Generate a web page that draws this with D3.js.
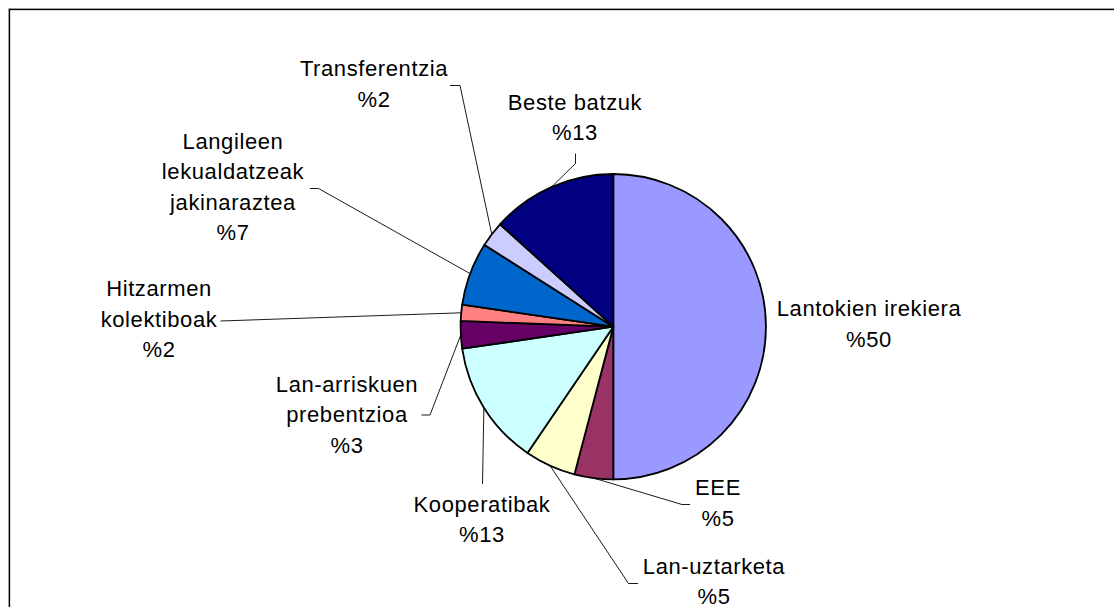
<!DOCTYPE html>
<html>
<head>
<meta charset="utf-8">
<script src="https://cdn.jsdelivr.net/npm/d3@7"></script>
<style>
  body { margin: 0; background: #fff; }
  text { font-family: "Liberation Sans", Arial, sans-serif; font-size: 22px; letter-spacing: 0.6px; fill: #000; }
</style>
</head>
<body>
<div id="chart"></div>
<script>
var w = 1114;
var h = 607;

// slices, clockwise from 12 o'clock
var categories = ["Lantokien irekiera", "EEE", "Lan-uztarketa", "Kooperatibak",
                  "Lan-arriskuen prebentzioa", "Hitzarmen kolektiboak",
                  "Langileen lekualdatzeak jakinaraztea", "Transferentzia", "Beste batzuk"];
var values = [50, 4.1, 5.4, 13.2, 2.9, 1.7, 6.7, 2.7, 13.3];
var pctLabels = ["%50", "%5", "%5", "%13", "%3", "%2", "%7", "%2", "%13"];
var colors = ["#9999FF", "#993366", "#FFFFCC", "#CCFFFF", "#660066",
              "#FF8080", "#0066CC", "#CCCCFF", "#000080"];

// label text lines (how the names wrap)
var labelLines = [
    ["Lantokien irekiera"], ["EEE"], ["Lan-uztarketa"], ["Kooperatibak"],
    ["Lan-arriskuen", "prebentzioa"], ["Hitzarmen", "kolektiboak"],
    ["Langileen", "lekualdatzeak", "jakinaraztea"], ["Transferentzia"], ["Beste batzuk"]
];

// layout: label centre x, first baseline y, leader points after the pie edge
var layout = [
    { x: 869, y: 316, leader: null },
    { x: 718, y: 495, leader: [[682, 504.5], [690, 504.5]] },
    { x: 714, y: 573.5, leader: [[628.5, 583.5], [638, 583.5]] },
    { x: 482, y: 511.5, leader: [[482.5, 484]] },
    { x: 347, y: 391.5, leader: [[430, 415], [421.5, 415]] },
    { x: 159, y: 296, leader: [[220.5, 321]] },
    { x: 233, y: 148.5, leader: [[318.5, 188.5], [310, 188.5]] },
    { x: 374, y: 76, leader: [[460, 85.5], [450, 85.5]] },
    { x: 575, y: 109.5, leader: [[575.5, 163.5], [575.5, 153.5]] }
];
var lineGap = 30.6;

var cx = 613.3, cy = 326.7, r = 152.7;

var svg = d3.select("#chart")
    .append("svg")
    .attr("width", w)
    .attr("height", h);

svg.append("rect")
    .attr("width", w).attr("height", h)
    .attr("fill", "#fff");

// frame (runs off the right and bottom)
svg.append("rect")
    .attr("x", 8.5).attr("y", 8.5)
    .attr("width", w + 20).attr("height", h + 20)
    .attr("fill", "none")
    .attr("stroke", "#bbb")
    .attr("stroke-width", 1);
svg.append("rect")
    .attr("x", 9.5).attr("y", 9.5)
    .attr("width", w + 20).attr("height", h + 20)
    .attr("fill", "none")
    .attr("stroke", "#000")
    .attr("stroke-width", 1.3);

var pie = d3.pie().sort(null).value(function (d) { return d; });
var arcs = pie(values);

var arc = d3.arc().innerRadius(0).outerRadius(r);
var edge = d3.arc().innerRadius(r).outerRadius(r);

var g = svg.append("g").attr("transform", "translate(" + cx + "," + cy + ")");

g.selectAll("path.slice")
    .data(arcs)
    .enter()
    .append("path")
    .attr("class", "slice")
    .attr("d", arc)
    .attr("fill", function (d, i) { return colors[i]; })
    .attr("stroke", "#000")
    .attr("stroke-width", 1.8)
    .attr("stroke-linejoin", "round");

// leader lines
var line = d3.line();
svg.selectAll("path.leader")
    .data(arcs)
    .enter()
    .filter(function (d, i) { return layout[i].leader; })
    .append("path")
    .attr("class", "leader")
    .attr("d", function (d) {
        var i = d.index;
        var c = edge.centroid(d);
        var pts = [[cx + c[0], cy + c[1]]].concat(layout[i].leader);
        return line(pts);
    })
    .attr("fill", "none")
    .attr("stroke", "#000")
    .attr("stroke-width", 0.9);

// labels
var labels = svg.selectAll("text.lbl")
    .data(arcs)
    .enter()
    .append("text")
    .attr("class", "lbl")
    .attr("text-anchor", "middle");

labels.each(function (d) {
    var i = d.index;
    var t = d3.select(this);
    var lines = labelLines[i].concat([pctLabels[i]]);
    lines.forEach(function (s, k) {
        t.append("tspan")
            .attr("x", layout[i].x)
            .attr("y", layout[i].y + k * lineGap)
            .text(s);
    });
});
</script>
</body>
</html>
